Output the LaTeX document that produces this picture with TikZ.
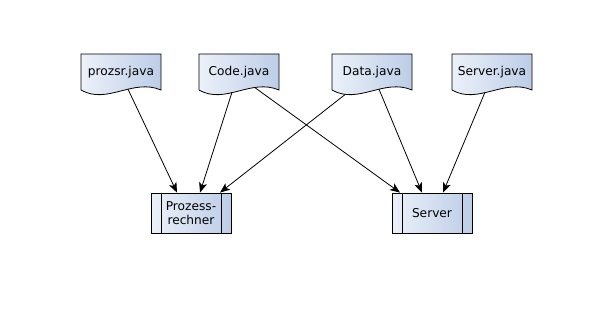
\documentclass[tikz,border=0pt]{standalone}
\usepackage{fontspec}
\setmainfont{DejaVu Sans}
\usetikzlibrary{arrows.meta,calc,positioning}
\definecolor{DocLight}{RGB}{236,241,249}
\definecolor{DocDark}{RGB}{188,205,231}
\tikzset{
  docfill/.style={left color=DocLight,right color=DocDark,draw=black,line width=0.8pt},
  doctext/.style={minimum width=80pt,minimum height=36pt,inner sep=0pt,
    font=\fontsize{12.2}{14}\selectfont},
  procbox/.style={left color=DocLight,right color=DocDark,draw=black,line width=0.8pt,
    minimum width=80pt,minimum height=40pt,inner sep=0pt,align=center,
    font=\fontsize{12.2}{13.5}\selectfont,
    path picture={
      \draw[line width=0.8pt] ([xshift=10pt]path picture bounding box.north west)
        -- ([xshift=10pt]path picture bounding box.south west);
      \draw[line width=0.8pt] ([xshift=-10pt]path picture bounding box.north east)
        -- ([xshift=-10pt]path picture bounding box.south east);}},
  flow/.style={-{Stealth[length=10pt,width=8pt,inset=2.5pt]},line width=0.8pt}
}
\newcommand{\javadoc}[3]{%
  \shade[docfill] (#2-40,90) -- (#2-40,54) -- (#2+40,54) -- (#2+40,90)
    .. controls +(-28,-12) and +(26,15) .. (#2-40,90) -- cycle;
  \node[doctext] (#1) at (#2,72) {#3};}

\begin{document}
\begin{tikzpicture}[x=1pt,y=-1pt]
  \useasboundingbox (0,0) rectangle (599,313);
  % source files
  \javadoc{prozsr}{121}{prozsr.java}
  \javadoc{code}{239}{Code.java}
  \javadoc{data}{372}{Data.java}
  \javadoc{serverjava}{492}{Server.java}
  % targets
  \node[procbox] (rechner) at (191,213) {Prozess-\\rechner};
  \node[procbox] (server) at (432,213) {Server};
  % dependencies
  \draw[flow] ([shift={(7,-1)}]prozsr.south) -- ([xshift=-14pt]rechner.north);
  \draw[flow] ([shift={(-7,2)}]code.south) -- ([xshift=9pt]rechner.north);
  \draw[flow] ([shift={(16,-2.5)}]code.south) -- ([xshift=-32pt]server.north);
  \draw[flow] ([shift={(-27,4.4)}]data.south) -- ([xshift=29pt]rechner.north);
  \draw[flow] ([shift={(7,-1)}]data.south) -- ([xshift=-10pt]server.north);
  \draw[flow] ([shift={(-7,2)}]serverjava.south) -- ([xshift=11pt]server.north);
\end{tikzpicture}
\end{document}
